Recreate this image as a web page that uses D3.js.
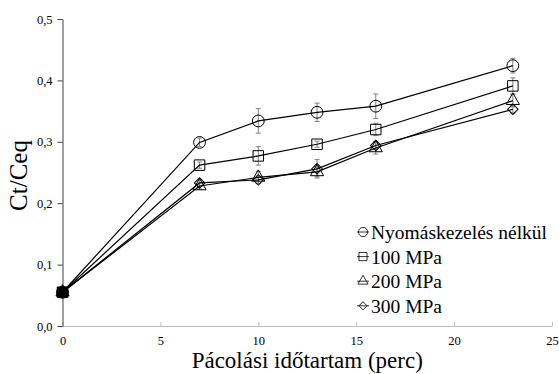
<!DOCTYPE html>
<html>
<head>
<meta charset="utf-8">
<script src="https://cdn.jsdelivr.net/npm/d3@7"></script>
<style>
  body { margin: 0; background: #fff; }
</style>
</head>
<body>
<div id="chart"></div>
<script>
const width = 559;
const height = 374;
const margin = { top: 19, right: 7, bottom: 48, left: 62.5 };
const serif = '"Liberation Serif", "Times New Roman", serif';

// data
const times = [0, 7, 10, 13, 16, 23];
const seriesNames = ['Nyomáskezelés nélkül', '100 MPa', '200 MPa', '300 MPa'];
const ctrlValues = [0.055, 0.299, 0.334, 0.348, 0.358, 0.424];
const ctrlErrors = [0.002, 0.007, 0.02, 0.015, 0.02, 0.012];
const mpa100Values = [0.055, 0.262, 0.277, 0.296, 0.320, 0.391];
const mpa100Errors = [0.002, 0.005, 0.015, 0.005, 0.01, 0.013];
const mpa200Values = [0.055, 0.228, 0.242, 0.251, 0.290, 0.367];
const mpa200Errors = [0.002, 0.005, 0.01, 0.008, 0.01, 0.01];
const mpa300Values = [0.055, 0.233, 0.238, 0.256, 0.294, 0.353];
const mpa300Errors = [0.002, 0.005, 0.006, 0.015, 0.006, 0.006];
const xTicks = [0, 5, 10, 15, 20, 25];
const yTicks = [0, 0.1, 0.2, 0.3, 0.4, 0.5];

// diamond = square turned 45 degrees
const symbols = [d3.symbolCircle, d3.symbolSquare, d3.symbolTriangle, d3.symbolSquare];
const symbolRotate = [0, 0, 0, 45];
const symbolSizes = [110, 110, 75, 55];
const allValues = [ctrlValues, mpa100Values, mpa200Values, mpa300Values];
const allErrors = [ctrlErrors, mpa100Errors, mpa200Errors, mpa300Errors];

const svg = d3.select('#chart')
  .append('svg')
  .attr('width', width)
  .attr('height', height)
  .attr('font-family', serif);

const x = d3.scaleLinear()
  .domain([0, 25])
  .range([margin.left, width - margin.right]);

const y = d3.scaleLinear()
  .domain([0, 0.5])
  .range([height - margin.bottom, margin.top]);

const fmt = d => d3.format('.1f')(d).replace('.', ',');

// x axis (ticks point inwards)
const xAxis = svg.append('g')
  .attr('transform', 'translate(0,' + y(0) + ')')
  .call(d3.axisBottom(x).tickValues(xTicks).tickSizeInner(-4).tickSizeOuter(0));
xAxis.attr('font-family', serif).attr('font-size', 12.5);
xAxis.select('.domain').attr('stroke', '#bfbfbf');
xAxis.selectAll('.tick line').attr('stroke', '#bfbfbf');
xAxis.selectAll('text')
  .attr('dy', null)
  .attr('y', 19)
  .attr('fill', '#000');

// y axis
const yAxis = svg.append('g')
  .attr('transform', 'translate(' + x(0) + ',0)')
  .call(d3.axisLeft(y).tickValues(yTicks).tickFormat(fmt).tickSizeInner(5).tickSizeOuter(0).tickPadding(5));
yAxis.attr('font-family', serif).attr('font-size', 12.5);
yAxis.select('.domain').attr('stroke', '#404040');
yAxis.selectAll('.tick line').attr('stroke', '#404040');
yAxis.selectAll('text').attr('fill', '#000');

// axis titles
svg.append('text')
  .attr('x', (x(0) + x(25)) / 2)
  .attr('y', 368)
  .attr('text-anchor', 'middle')
  .attr('font-size', 23)
  .text('Pácolási időtartam (perc)');

svg.append('text')
  .attr('transform', 'translate(27,' + ((y(0) + y(0.5)) / 2 + 3) + ') rotate(-90)')
  .attr('text-anchor', 'middle')
  .attr('font-size', 25)
  .text('Ct/Ceq');

// error bars
allValues.forEach(function(vals, s) {
  const errs = allErrors[s];
  const g = svg.append('g').attr('stroke', '#808080').attr('stroke-width', 1);
  times.forEach(function(t, i) {
    if (t === 0) return;
    g.append('line')
      .attr('x1', x(t)).attr('x2', x(t))
      .attr('y1', y(vals[i] - errs[i])).attr('y2', y(vals[i] + errs[i]));
    [vals[i] - errs[i], vals[i] + errs[i]].forEach(function(v) {
      g.append('line')
        .attr('x1', x(t) - 2.5).attr('x2', x(t) + 2.5)
        .attr('y1', y(v)).attr('y2', y(v));
    });
  });
});

// lines and markers
const line = d3.line()
  .x((d, i) => x(times[i]))
  .y(d => y(d));

allValues.forEach(function(vals, s) {
  svg.append('path')
    .datum(vals)
    .attr('d', line)
    .attr('fill', 'none')
    .attr('stroke', '#000')
    .attr('stroke-width', 1.2);

  svg.append('g').selectAll('path')
    .data(vals)
    .enter()
    .append('path')
    .attr('transform', (d, i) => 'translate(' + x(times[i]) + ',' + y(d) + ') rotate(' + symbolRotate[s] + ')')
    .attr('d', d3.symbol().type(symbols[s]).size(symbolSizes[s]))
    .attr('fill', (d, i) => times[i] === 0 ? '#000' : 'none')
    .attr('stroke', '#000')
    .attr('stroke-width', 1);
});

// legend
const legend = svg.append('g')
  .attr('transform', 'translate(363,232)');

seriesNames.forEach(function(name, i) {
  const row = legend.append('g').attr('transform', 'translate(0,' + (i * 24.6) + ')');
  row.append('line')
    .attr('x1', -6).attr('x2', 6)
    .attr('y1', 0).attr('y2', 0)
    .attr('stroke', '#000')
    .attr('stroke-width', 0.8);
  row.append('path')
    .attr('transform', 'rotate(' + symbolRotate[i] + ')')
    .attr('d', d3.symbol().type(symbols[i]).size(symbolSizes[i] * 0.6))
    .attr('fill', 'none')
    .attr('stroke', '#000')
    .attr('stroke-width', 0.8);
  row.append('text')
    .attr('x', 8)
    .attr('y', 7)
    .attr('font-size', 19.5)
    .text(name);
});
</script>
</body>
</html>
